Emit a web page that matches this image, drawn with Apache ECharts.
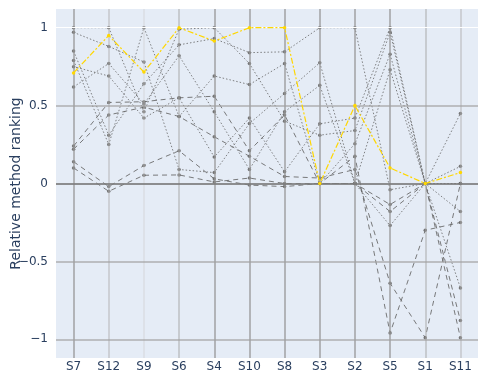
<!DOCTYPE html>
<html>
<head>
<meta charset="utf-8">
<script src="https://cdn.jsdelivr.net/npm/echarts@6/dist/echarts.min.js"></script>
<style>
  html, body { margin: 0; padding: 0; background: #fff; }
  #chart { width: 481px; height: 372px; }
</style>
</head>
<body>
<div id="chart"></div>
<script>
// Scenario order along the x axis
const categories = ['S7', 'S12', 'S9', 'S6', 'S4', 'S10', 'S8', 'S3', 'S2', 'S5', 'S1', 'S11'];

// Highlighted method
const highlighted = [0.71, 0.95, 0.715, 1.0, 0.914, 1.0, 1.0, 0.0, 0.5, 0.1, 0.0, 0.07];

// Methods drawn with dotted lines
const dotted1 = [1.0, 1.0, 0.46, 0.99, 1.0, 0.77, 0.40, 0.31, 0.34, 0.97, 0.0, 0.45];
const dotted2 = [0.97, 0.88, 0.78, 0.09, 0.07, 0.385, 0.578, 0.775, 0.0, 0.73, 0.0, 0.11];
const dotted3 = [0.85, 0.31, 0.64, 0.89, 0.93, 0.84, 0.845, 1.0, 1.0, -0.04, 0.0, 0.0];
const dotted4 = [0.79, 0.25, 1.0, 0.43, 0.69, 0.635, 0.77, 0.0, 0.255, 0.83, 0.0, -0.18];
const dotted5 = [0.75, 0.69, 0.42, 0.55, 0.17, 0.42, 0.075, 0.383, 0.42, 1.0, 0.0, -0.67];
const dotted6 = [0.62, 0.77, 0.51, 0.82, 0.46, 0.09, 0.46, 0.63, 0.0, -0.27, 0.0, 0.0];

// Methods drawn with dashed lines
const dashed1 = [0.24, 0.52, 0.525, 0.55, 0.56, 0.21, 0.44, 0.0, 0.175, -0.96, -0.3, -0.25];
const dashed2 = [0.22, 0.44, 0.49, 0.43, 0.30, 0.175, 0.045, 0.035, 0.09, -0.64, -0.99, 0.0];
const dashed3 = [0.14, -0.02, 0.115, 0.21, 0.03, -0.01, -0.02, 0.0, 0.0, -0.135, 0.0, -0.88];
const dashed4 = [0.10, -0.05, 0.053, 0.055, 0.01, 0.035, 0.0, 0.0, 0.0, -0.18, 0.0, -0.99];

// Y tick values
const yTicks = [-1, -0.5, 0, 0.5, 1];

const FONT = 'DejaVu Sans';
const TEXT = '#2a3f5f';

function fmt(v) {
  return String(v).replace('-', '\u2212');
}

// Vertical guide at each scenario
const vGuideColor = {
  S7: 'rgba(150,150,150,0.65)', S12: 'rgba(175,175,175,0.45)', S9: 'rgba(205,205,205,0.35)',
  S6: 'rgba(170,170,170,0.5)', S4: 'rgba(150,150,150,0.65)', S10: 'rgba(150,150,150,0.65)',
  S8: 'rgba(150,150,150,0.65)', S3: 'rgba(150,150,150,0.65)', S2: 'rgba(150,150,150,0.65)',
  S5: 'rgba(150,150,150,0.65)', S1: 'rgba(170,170,170,0.5)', S11: 'rgba(175,175,175,0.45)'
};
const vGuides = categories.map(c => ({
  xAxis: c,
  lineStyle: { color: vGuideColor[c], width: 2, type: 'solid' }
}));
// Horizontal guides
const hGuides = yTicks.map(v => ({
  yAxis: v,
  lineStyle: {
    color: v === 1 ? '#ffffff' : (v === 0 ? 'rgba(125,125,125,0.85)' : 'rgba(160,160,160,0.6)'),
    width: v === 1 ? 1 : 2,
    type: 'solid'
  }
}));

function grayLine(name, values, dash, color) {
  return {
    name: name,
    type: 'line',
    data: values,
    z: 3,
    symbol: 'circle',
    symbolSize: 3.5,
    showSymbol: true,
    itemStyle: { color: 'rgba(105,105,105,0.9)' },
    lineStyle: { color: color, width: 1, type: dash },
    emphasis: { disabled: true },
    animation: false
  };
}

const DOT = [1.5, 2];
const DASH = [5, 4];
const DOT_COLOR = 'rgba(100,100,100,0.8)';
const DASH_COLOR = 'rgba(100,100,100,0.85)';

const series = [
  {
    name: 'guides',
    type: 'line',
    data: [],
    z: 1,
    markLine: {
      silent: true,
      symbol: 'none',
      label: { show: false },
      animation: false,
      data: vGuides.concat(hGuides)
    }
  },
  grayLine('dotted1', dotted1, DOT, DOT_COLOR),
  grayLine('dotted2', dotted2, DOT, DOT_COLOR),
  grayLine('dotted3', dotted3, DOT, DOT_COLOR),
  grayLine('dotted4', dotted4, DOT, DOT_COLOR),
  grayLine('dotted5', dotted5, DOT, DOT_COLOR),
  grayLine('dotted6', dotted6, DOT, DOT_COLOR),
  grayLine('dashed1', dashed1, DASH, DASH_COLOR),
  grayLine('dashed2', dashed2, DASH, DASH_COLOR),
  grayLine('dashed3', dashed3, DASH, DASH_COLOR),
  grayLine('dashed4', dashed4, DASH, DASH_COLOR),
  {
    name: 'highlighted',
    type: 'line',
    data: highlighted,
    z: 5,
    symbol: 'circle',
    symbolSize: 3.5,
    itemStyle: { color: '#FFD700' },
    lineStyle: { color: '#FFD700', width: 1.2, type: [6, 2, 2, 2] },
    emphasis: { disabled: true },
    animation: false
  }
];

const chart = echarts.init(document.getElementById('chart'), null, { renderer: 'canvas' });
chart.setOption({
  animation: false,
  backgroundColor: '#ffffff',
  grid: {
    left: 56, right: 3, top: 9, bottom: 14,
    outerBoundsMode: 'none',
    containLabel: false,
    show: true, backgroundColor: '#E5ECF6', borderWidth: 0
  },
  xAxis: {
    type: 'category',
    data: categories,
    boundaryGap: true,
    axisLine: { show: false },
    axisTick: { show: false },
    splitLine: { show: false },
    axisLabel: { color: TEXT, fontFamily: FONT, fontSize: 12, margin: 3 }
  },
  yAxis: {
    type: 'value',
    min: -1.12,
    max: 1.12,
    name: 'Relative method ranking',
    nameLocation: 'middle',
    nameGap: 33,
    nameMoveOverlap: false,
    nameTextStyle: { color: TEXT, fontFamily: FONT, fontSize: 14 },
    axisLine: { show: false },
    axisTick: { show: false },
    splitLine: { show: false },
    axisLabel: {
      customValues: yTicks,
      color: TEXT, fontFamily: FONT, fontSize: 12, margin: 8,
      formatter: v => fmt(v)
    }
  },
  series: series
});
</script>
</body>
</html>
